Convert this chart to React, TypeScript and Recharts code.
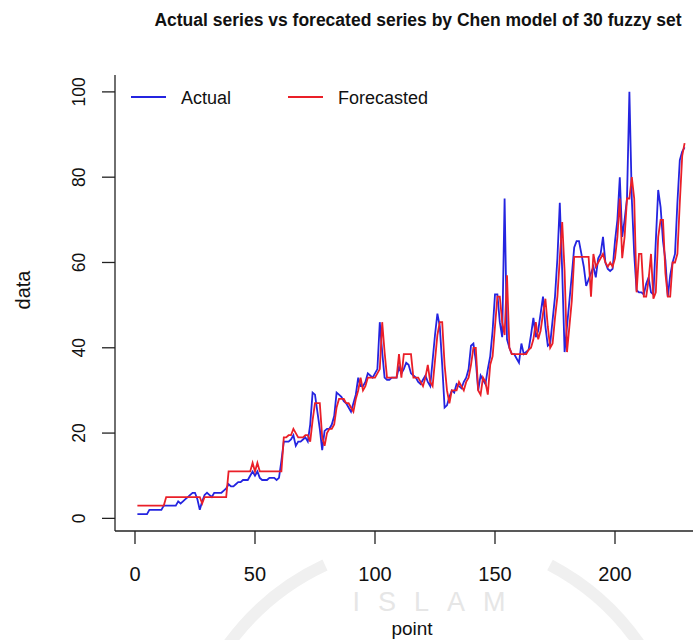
import React from 'react';
import { LineChart, Line, XAxis, YAxis, Customized } from 'recharts';

const title = 'Actual series vs forecated series by Chen model of 30 fuzzy set';
const seriesNames = ['Actual', 'Forecasted'];
const xLabel = 'point';
const yLabel = 'data';
const watermark = 'ISLAM';
const xTicks = [0, 50, 100, 150, 200];
const yTicks = [0, 20, 40, 60, 80, 100];

const actual = [
  1, 1, 1, 1, 1, 2, 2, 2, 2, 2,
  2, 3, 3, 3, 3, 3, 3, 4, 3.5, 4,
  4.5, 5, 5.5, 6, 6, 4.5, 2, 4, 5.5, 6,
  5.5, 5, 6, 6, 6, 6, 6.5, 7, 8, 7.5,
  7.5, 8, 8.5, 8.5, 9, 9, 9, 10, 11, 10,
  11, 9.5, 9, 9, 9, 9.5, 9.5, 9.5, 9, 9.5,
  13.5, 18, 18, 18, 18.5, 19.5, 17, 18, 18, 18.5,
  19, 18, 22, 29.5, 29, 25, 21, 16, 20.5, 21,
  21, 22, 24, 29.5, 29, 28.5, 27.5, 27, 26, 25,
  27, 29, 33, 31, 31, 32, 34, 33.5, 33, 34,
  35, 46, 39, 33, 32.5, 32.5, 33, 33, 33, 35.5,
  34, 35, 36.5, 36, 34, 33.5, 33, 32, 31.5, 32.5,
  33.5, 32, 31, 37, 43, 48, 45, 36, 26, 26.5,
  28.5, 30, 29.5, 31.5, 31, 30.5, 32, 33, 35, 40.5,
  41, 37, 30, 33.5, 32.5, 31.5, 35, 38, 44, 52.5,
  52.5, 46, 42.5, 75, 42, 40, 38.5, 38.5, 37.5, 36.5,
  41, 38.5, 39, 39.5, 43, 47, 42.5, 44, 48, 52,
  45, 40.5, 41, 46.5, 52, 61, 74, 58, 39, 45,
  51, 57, 63.5, 65, 65, 62, 59, 54.5, 56, 57.5,
  59, 56.5, 61, 62, 66, 60, 58.5, 58, 58.5, 65,
  70, 80, 66, 70, 75, 100, 75, 62, 53.5, 53,
  53, 52.5, 55, 56.5, 53, 52.5, 65, 77, 73, 65,
  60.5, 52, 57, 60, 62, 74, 84, 86, 87,
];

const forecasted = [
  3, 3, 3, 3, 3, 3, 3, 3, 3, 3,
  3, 3, 5, 5, 5, 5, 5, 5, 5, 5,
  5, 5, 5, 5, 5, 5, 5, 3.5, 5, 5,
  5, 5, 5, 5, 5, 5, 5, 5, 11, 11,
  11, 11, 11, 11, 11, 11, 11, 11, 13, 11,
  13, 11, 11, 11, 11, 11, 11, 11, 11, 11,
  11, 19, 19, 19.5, 19.5, 21, 20, 19, 19, 19,
  19.5, 19.5, 18, 23, 27, 27, 27, 19, 17, 20,
  21, 21, 22, 26, 28, 28, 28, 27, 27, 26,
  25, 28, 30, 33, 30, 31, 33, 33, 33, 33,
  34, 35, 46, 39, 33, 33, 33, 33, 33, 38.5,
  33, 38.5, 38.5, 38.5, 38.5, 33, 33, 33, 32, 31,
  33, 36, 32, 31, 37, 43, 46, 46, 36, 30,
  27, 30, 30, 30, 32, 31, 30, 32, 33, 36,
  40, 40, 30, 29, 33, 32, 29, 36, 38, 45,
  52, 52, 46, 43, 57, 40, 38.5, 38.5, 38.5, 38.5,
  38.5, 38.5, 38.5, 39.5, 40, 42, 46, 42, 44, 48,
  51.5, 45, 40, 41, 47, 52, 61, 69.5, 58, 39,
  45, 51, 61.3, 61.3, 61.3, 61.3, 61.3, 61.3, 61.3, 52,
  62, 59, 60, 61, 62, 60, 59, 60, 59, 61,
  66, 75, 61, 66, 75, 75, 80, 75, 53, 62,
  62, 52, 52, 56, 62, 51.5, 53, 66, 70, 70,
  57.5, 52, 52, 60, 60, 62, 74, 85, 88,
];

const data = actual.map((a, i) => ({ point: i + 1, actual: a, forecasted: forecasted[i] }));

const FONT = '"Liberation Sans", Arial, Helvetica, sans-serif';
const BLUE = '#2424e0';
const RED = '#ea1f28';

const XTick = (props: any) => {
  const { x, payload } = props;
  return (
    <text x={x} y={574} textAnchor="middle" dominantBaseline="central" fontFamily={FONT} fontSize={20} fill="#111">
      {payload.value}
    </text>
  );
};

const YTick = (props: any) => {
  const { y, payload } = props;
  const cx = 79;
  return (
    <text
      x={cx}
      y={y}
      transform={`rotate(-90, ${cx}, ${y})`}
      textAnchor="middle"
      dominantBaseline="central"
      fontFamily={FONT}
      fontSize={17.5}
      fill="#111"
    >
      {payload.value}
    </text>
  );
};

const Overlay = () => (
  <g>
    <g fill="none" stroke="#f0f0f0" strokeWidth={12}>
      <path d="M 228 645 A 250 250 0 0 1 325 565" />
      <path d="M 550 565 A 250 250 0 0 1 640 645" />
    </g>
    <text x={438} y={611} textAnchor="middle" fontFamily={FONT} fontSize={27} fill="#e6e6e6" letterSpacing={18}>
      {watermark}
    </text>
    <text x={418} y={26} textAnchor="middle" fontFamily={FONT} fontSize={17.5} fontWeight="bold" fill="#111">
      {title}
    </text>
    <text x={412} y={628} textAnchor="middle" dominantBaseline="central" fontFamily={FONT} fontSize={19} fill="#111">
      {xLabel}
    </text>
    <text
      x={23}
      y={290}
      transform="rotate(-90, 23, 290)"
      textAnchor="middle"
      dominantBaseline="central"
      fontFamily={FONT}
      fontSize={20}
      fill="#111"
    >
      {yLabel}
    </text>
    <line x1={131} y1={97} x2={166} y2={97} stroke={BLUE} strokeWidth={2} />
    <text x={181} y={98} dominantBaseline="central" fontFamily={FONT} fontSize={18} fill="#111">
      {seriesNames[0]}
    </text>
    <line x1={288} y1={97} x2={323} y2={97} stroke={RED} strokeWidth={2} />
    <text x={338} y={98} dominantBaseline="central" fontFamily={FONT} fontSize={18} fill="#111">
      {seriesNames[1]}
    </text>
  </g>
);

export default function App() {
  return (
    <div style={{ position: 'absolute', left: 0, top: 0, width: 693, height: 640, background: '#fff' }}>
      <LineChart width={693} height={640} data={data} margin={{ top: 75, right: 0, bottom: 0, left: 0 }}>
        <XAxis
          dataKey="point"
          type="number"
          domain={[-8.33, 232.5]}
          allowDataOverflow
          ticks={xTicks}
          interval={0}
          height={109}
          tickSize={13}
          axisLine={{ stroke: '#222', strokeWidth: 1.3 }}
          tickLine={{ stroke: '#222', strokeWidth: 1.3 }}
          tick={<XTick />}
        />
        <YAxis
          type="number"
          domain={[-2.96, 103.96]}
          allowDataOverflow
          ticks={yTicks}
          interval={0}
          width={115}
          tickSize={13}
          axisLine={{ stroke: '#222', strokeWidth: 1.3 }}
          tickLine={{ stroke: '#222', strokeWidth: 1.3 }}
          tick={<YTick />}
        />
        <Line type="linear" dataKey="actual" stroke={BLUE} strokeWidth={1.8} dot={false} isAnimationActive={false} />
        <Line type="linear" dataKey="forecasted" stroke={RED} strokeWidth={1.8} dot={false} isAnimationActive={false} />
        <Customized component={Overlay} />
      </LineChart>
    </div>
  );
}
